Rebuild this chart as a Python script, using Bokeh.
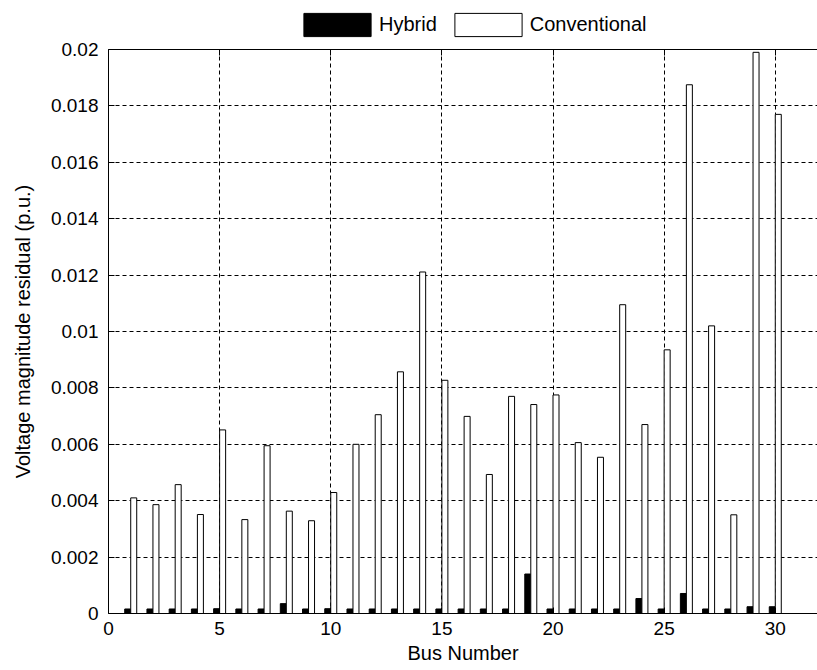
from bokeh.plotting import figure
from bokeh.layouts import column
from bokeh.models import Range1d, FixedTicker, LinearAxis, Legend, LegendItem, ColumnDataSource
from bokeh.transform import dodge
from bokeh.embed import file_html
from bokeh.resources import INLINE

buses = list(range(1, 31))
hybrid = [0.00016, 0.00016, 0.00016, 0.00016, 0.00017, 0.00016, 0.00016, 0.00035, 0.00016, 0.00017,
          0.00016, 0.00016, 0.00016, 0.00016, 0.00016, 0.00016, 0.00016, 0.00016, 0.0014, 0.00016,
          0.00016, 0.00016, 0.00016, 0.00053, 0.00016, 0.00071, 0.00016, 0.00016, 0.00024, 0.00024]
conventional = [0.0041, 0.00386, 0.00457, 0.00351, 0.00651, 0.00333, 0.00595, 0.00363, 0.00329, 0.00429,
                0.0060, 0.00705, 0.00857, 0.01211, 0.00827, 0.00699, 0.00493, 0.0077, 0.00741, 0.00775,
                0.00606, 0.00554, 0.01095, 0.0067, 0.00935, 0.01875, 0.0102, 0.0035, 0.0199, 0.0177]
x_ticks = [0, 5, 10, 15, 20, 25, 30]
y_ticks = [0, 0.002, 0.004, 0.006, 0.008, 0.01, 0.012, 0.014, 0.016, 0.018, 0.02]
y_tick_labels = ["0", "0.002", "0.004", "0.006", "0.008", "0.01", "0.012", "0.014", "0.016", "0.018", "0.02"]
series_names = ["Hybrid", "Conventional"]

FONT = "Liberation Sans"
TICK_SIZE = "19px"
LABEL_SIZE = "20px"
LEG_H = 40
LEFT = 108

src = ColumnDataSource(dict(bus=buses, hybrid=hybrid, conventional=conventional))

p = figure(width=817, height=670 - LEG_H, x_range=Range1d(0, 31.9), y_range=Range1d(0, 0.02),
           output_backend="svg", toolbar_location=None,
           min_border_left=LEFT, min_border_right=0, min_border_top=49 - LEG_H, min_border_bottom=57,
           x_axis_location=None, y_axis_location=None)
p.outline_line_color = None
p.background_fill_color = "white"
p.border_fill_color = "white"

bw = 0.27
p.vbar(x=dodge("bus", -bw / 2), top="hybrid", bottom=0, width=bw, source=src,
       fill_color="black", line_color="black", line_width=1)
p.vbar(x=dodge("bus", bw / 2), top="conventional", bottom=0, width=bw, source=src,
       fill_color="white", line_color="black", line_width=1)

# axes
xaxis = LinearAxis(ticker=FixedTicker(ticks=x_ticks), axis_label="Bus Number")
yaxis = LinearAxis(ticker=FixedTicker(ticks=y_ticks), axis_label="Voltage magnitude residual (p.u.)")
yaxis.major_label_overrides = {t: s for t, s in zip(y_ticks, y_tick_labels)}
top_axis = LinearAxis(ticker=FixedTicker(ticks=x_ticks))
top_axis.major_label_overrides = {t: "" for t in x_ticks}

for ax in (xaxis, yaxis, top_axis):
    ax.axis_line_color = "black"
    ax.axis_line_width = 1
    ax.major_tick_in = 6
    ax.major_tick_out = 0
    ax.major_tick_line_color = "black"
    ax.minor_tick_line_color = None
    ax.major_label_text_font = FONT
    ax.major_label_text_font_size = TICK_SIZE
    ax.major_label_text_color = "black"
    ax.axis_label_text_font = FONT
    ax.axis_label_text_font_size = LABEL_SIZE
    ax.axis_label_text_font_style = "normal"
    ax.axis_label_text_color = "black"

top_axis.major_label_text_color = None
top_axis.major_label_text_font_size = "2px"
top_axis.major_label_standoff = 0
xaxis.major_label_standoff = 8
xaxis.axis_label_standoff = 4
yaxis.major_label_standoff = 10
yaxis.axis_label_standoff = 14

p.add_layout(yaxis, "left")
p.add_layout(xaxis, "below")
p.add_layout(top_axis, "above")

p.xgrid.ticker = FixedTicker(ticks=x_ticks)
p.ygrid.ticker = FixedTicker(ticks=y_ticks)
for g in (p.xgrid, p.ygrid):
    g.grid_line_color = "black"
    g.grid_line_dash = "4 3"
    g.grid_line_width = 1
    g.grid_line_alpha = 1.0

# legend strip above the axes (its bars are the same data, kept outside its view)
lf = figure(width=817, height=LEG_H, x_range=Range1d(-200, -199), y_range=Range1d(0, 1),
            output_backend="svg", toolbar_location=None,
            min_border=0, min_border_left=0, min_border_right=0, min_border_top=0, min_border_bottom=0,
            x_axis_location=None, y_axis_location=None)
lf.outline_line_color = None
lf.xgrid.visible = False
lf.ygrid.visible = False
lh = lf.vbar(x="bus", top="hybrid", width=bw, source=src, fill_color="black", line_color="black", line_width=1)
lc = lf.vbar(x="bus", top="conventional", width=bw, source=src, fill_color="white", line_color="black", line_width=1)

legend = Legend(items=[LegendItem(label=series_names[0], renderers=[lh]),
                       LegendItem(label=series_names[1], renderers=[lc])],
                orientation="horizontal", location=(295 - LEFT, 1))
legend.glyph_width = 84
legend.glyph_height = 29
legend.label_text_font = FONT
legend.label_text_font_size = LABEL_SIZE
legend.label_text_color = "black"
legend.label_standoff = -3
legend.spacing = 9
legend.padding = 0
legend.margin = 0
legend.border_line_color = None
legend.background_fill_alpha = 0
lf.add_layout(legend, "center")

layout = column(lf, p, spacing=0)
open("out.html", "w").write(file_html(layout, INLINE))
